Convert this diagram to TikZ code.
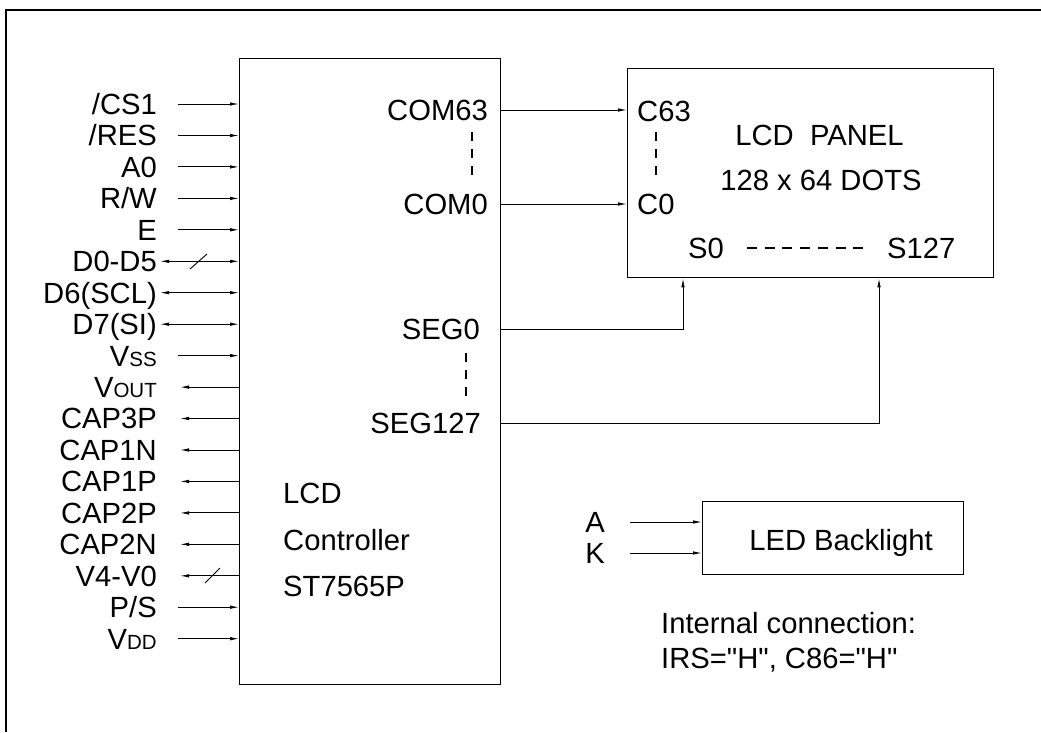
\documentclass[tikz,border=0pt]{standalone}
\usepackage{fontspec}
\setmainfont{Liberation Sans}[Ligatures=TeXOff]
\usetikzlibrary{arrows.meta}
\newcommand\smc[1]{{\fontsize{20.5}{20}\selectfont #1}}
\tikzset{
  lbl/.style={inner sep=0pt, anchor=base east},
  lblw/.style={inner sep=0pt, anchor=base west},
  lblc/.style={inner sep=0pt, anchor=base},
  box/.style={draw, line width=1.3pt, rectangle, inner sep=0pt, anchor=north west},
  wire/.style={line width=0.9pt},
  inarr/.style={wire, -{Latex[length=9pt,width=3.5pt]}},
  outarr/.style={wire, {Latex[length=9pt,width=3.5pt]}-},
  biarr/.style={wire, {Latex[length=9pt,width=3.5pt]}-{Latex[length=9pt,width=3.5pt]}},
  vdash/.style={line width=2pt, dash pattern=on 9pt off 8pt},
  hdash/.style={line width=1.6pt, dash pattern=on 10pt off 7.7pt},
}
\newcommand\lpin[5]{%
  \node[lbl] (#1) at (157,#2+10.4) {#3};
  \coordinate (#1s) at (#4,#2);
  \draw[#5] (#1s) -- (#1s -| ctrl.west);}
\begin{document}
\begin{tikzpicture}[x=1pt,y=-1pt,font=\fontsize{29.2}{34}\selectfont]
\useasboundingbox (0,0) rectangle (1041,732);
% outer frame
\draw[line width=1.5pt] (6,732) -- (6,10) -- (1041,10);
% boxes
\node[box, minimum width=261pt, minimum height=626pt] (ctrl) at (239,58) {};
\node[box, minimum width=366pt, minimum height=209pt] (panel) at (627,68) {};
\node[box, minimum width=261pt, minimum height=73pt] (bl) at (702,501) {};
% left pins
\lpin{cs}{104}{/CS1}{178}{inarr}
\lpin{res}{135.5}{/RES}{178}{inarr}
\lpin{azero}{166.9}{A0}{178}{inarr}
\lpin{rw}{198.4}{R/W}{178}{inarr}
\lpin{e}{229.8}{E}{178}{inarr}
\lpin{dlow}{261.3}{D0-D5}{160}{biarr}
\lpin{dsix}{292.7}{D6(SCL)}{160}{biarr}
\lpin{dseven}{324.2}{D7(SI)}{160}{biarr}
\lpin{vss}{355.6}{V\smc{SS}}{178}{inarr}
\lpin{vout}{387.1}{V\smc{OUT}}{180}{outarr}
\lpin{cthreep}{418.5}{CAP3P}{180}{outarr}
\lpin{conen}{450}{CAP1N}{180}{outarr}
\lpin{conep}{481.4}{CAP1P}{180}{outarr}
\lpin{ctwop}{512.9}{CAP2P}{180}{outarr}
\lpin{ctwon}{544.3}{CAP2N}{180}{outarr}
\lpin{vfour}{575.8}{V4-V0}{180}{outarr}
\lpin{ps}{607.2}{P/S}{178}{inarr}
\lpin{vdd}{638.7}{V\smc{DD}}{178}{inarr}
% bus slashes
\coordinate (sl1a) at (190,269); \coordinate (sl1b) at (207,254);
\draw[wire] (sl1a) -- (sl1b);
\coordinate (sl2a) at (205,583); \coordinate (sl2b) at (220,568);
\draw[wire] (sl2a) -- (sl2b);
% controller text
\node[lblw] (t1) at (283,503) {LCD};
\node[lblw] (t2) at (283,550) {Controller};
\node[lblw] (t3) at (283,596) {ST7565P};
% COM outputs
\node[lbl] (com63) at (488,120.4) {COM63};
\node[lbl] (com0) at (488,214.4) {COM0};
\coordinate (c63) at (500,110);
\coordinate (c0) at (500,204);
\draw[inarr] (c63) -- (c63 -| panel.west);
\draw[inarr] (c0) -- (c0 -| panel.west);
\coordinate (cd1) at (472,132); \coordinate (cd2) at (472,177);
\draw[vdash] (cd1) -- (cd2);
% SEG outputs
\node[lbl] (seg0) at (480,339.4) {SEG0};
\node[lbl] (seg127) at (481,433.4) {SEG127};
\coordinate (sg0) at (500,329);
\coordinate (sg127) at (500,423);
\draw[inarr] (sg0) -| ([xshift=56pt]panel.south west);
\draw[inarr] (sg127) -| ([xshift=252pt]panel.south west);
\coordinate (sd1) at (466,353); \coordinate (sd2) at (466,398);
\draw[vdash] (sd1) -- (sd2);
% panel contents
\node[lblw] (pc63) at (637,121.4) {C63};
\node[lblw] (pc0) at (637,214.4) {C0};
\coordinate (pd1) at (656,132); \coordinate (pd2) at (656,177);
\draw[vdash] (pd1) -- (pd2);
\node[lblc] (ptitle) at (819.5,145.4) {LCD\ \ PANEL};
\node[lblc] (pdots) at (821,190.4) {128 x 64 DOTS};
\node[lblw] (ps0) at (688,258.4) {S0};
\node[lblw] (ps127) at (887,258.4) {S127};
\coordinate (hd1) at (747,248); \coordinate (hd2) at (863,248);
\draw[hdash] (hd1) -- (hd2);
% backlight
\node[lblc] (la) at (595,532.4) {A};
\node[lblc] (lk) at (595,563.4) {K};
\coordinate (ca) at (630,522);
\coordinate (ck) at (630,553);
\draw[inarr] (ca) -- (ca -| bl.west);
\draw[inarr] (ck) -- (ck -| bl.west);
\node[lblc] (bltxt) at (841,550.4) {LED Backlight};
% note
\node[lblw] (n1) at (661,633.4) {Internal connection:};
\node[lblw] (n2) at (661,668.4) {IRS="H", C86="H"};
\end{tikzpicture}
\end{document}
